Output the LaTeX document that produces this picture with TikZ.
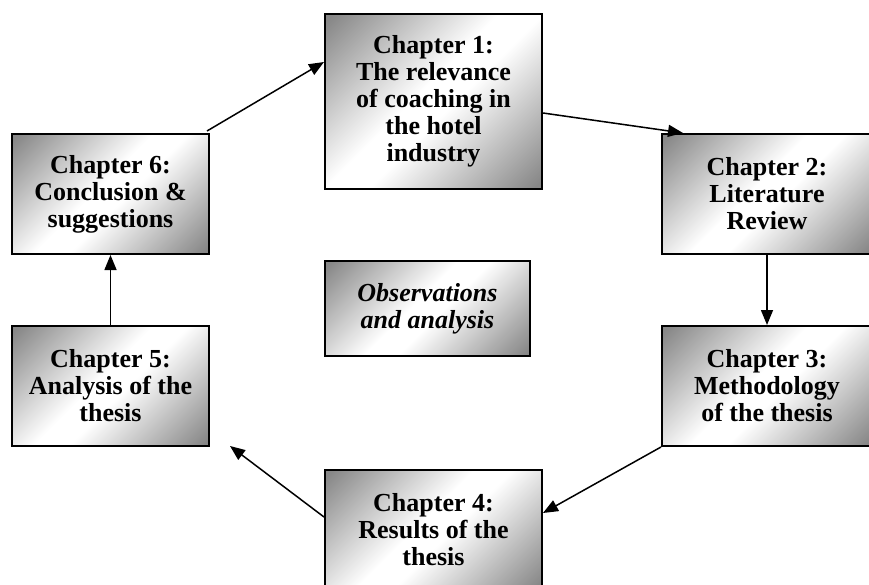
\documentclass[tikz,border=0pt]{standalone}
\usepackage{fontspec}
\setmainfont{Liberation Serif}
\usetikzlibrary{arrows.meta}
\pgfdeclarehorizontalshading{diagshade}{100bp}{color(0bp)=(black!47); color(16bp)=(black!47); color(46bp)=(white); color(54bp)=(white); color(84bp)=(black!47); color(100bp)=(black!47)}
\tikzset{
  chap/.style={draw=black, line width=2pt, shading=diagshade, shading angle=-45,
    anchor=north west, align=center, inner sep=0pt,
    font=\fontsize{26}{27}\selectfont\bfseries},
  conn/.style={line width=1.5pt, -{Triangle[length=15pt,width=12pt]}}
}
\begin{document}
\begin{tikzpicture}[x=1pt,y=-1pt]
\useasboundingbox (0,0) rectangle (869,585);
\clip (0,0) rectangle (869,585);
\node[chap, minimum width=217, minimum height=175] (b1) at (324,13)
  {Chapter 1:\\The relevance\\of coaching in\\the hotel\\industry};
\node[chap, minimum width=210, minimum height=120] (b2) at (661,133)
  {Chapter 2:\\Literature\\Review};
\node[chap, minimum width=210, minimum height=120] (b3) at (661,325)
  {Chapter 3:\\Methodology\\of the thesis};
\node[chap, minimum width=217, minimum height=120] (b4) at (324,469)
  {Chapter 4:\\Results of the\\thesis};
\node[chap, minimum width=197, minimum height=120] (b5) at (11,325)
  {Chapter 5:\\Analysis of the\\thesis};
\node[chap, minimum width=197, minimum height=120] (b6) at (11,133)
  {Chapter 6:\\Conclusion \&\\suggestions};
\node[chap, minimum width=205, minimum height=95, font=\fontsize{26}{27}\selectfont\bfseries\itshape] (obs) at (324,260)
  {Observations\\and analysis};
\coordinate (t5) at (230,446);
\draw[conn] ([xshift=-3pt,yshift=2pt]b6.north east) -- (b1.west |- 0,62);
\draw[conn] (b1.east |- 0,113) -- (b2.north -| 683,0);
\draw[conn] (b2.south) -- (b3.north);
\draw[conn] (b3.south west) -- (b4.east |- 0,513);
\draw[conn] (b4.west |- 0,517) -- (t5);
\draw[conn] (b5.north) -- (b6.south);
\end{tikzpicture}
\end{document}
